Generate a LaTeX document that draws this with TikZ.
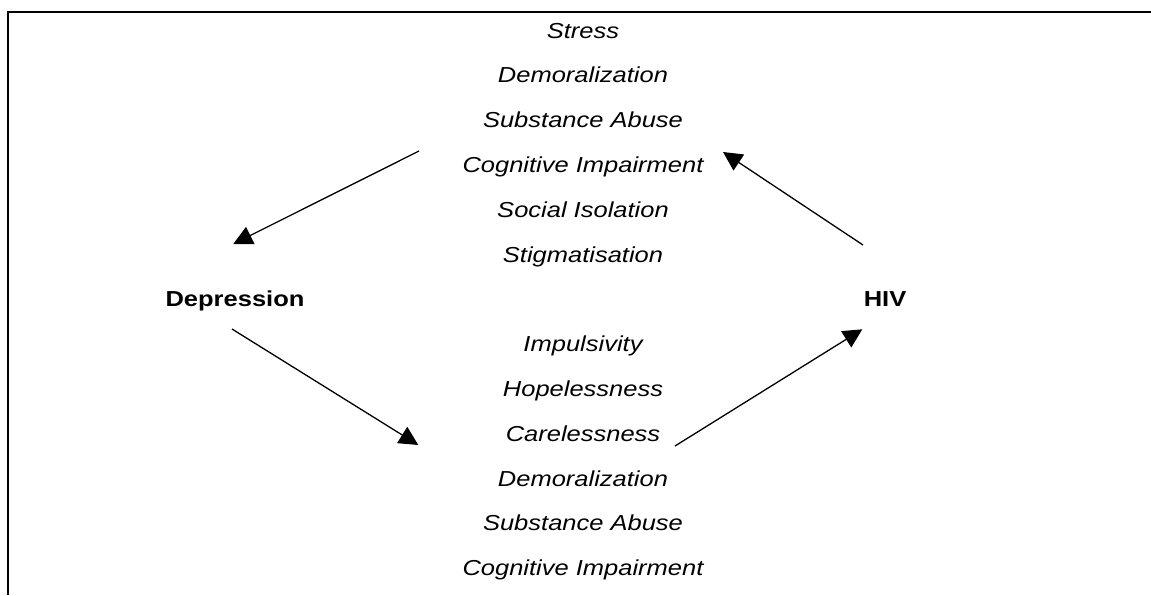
\documentclass[tikz,border=0pt]{standalone}
\usepackage{fontspec}
\usepackage{graphicx}
\setmainfont{Liberation Sans}
\usetikzlibrary{arrows.meta}
\newcommand{\vsq}[1]{\scalebox{1}[0.85]{#1}}
\begin{document}
\begin{tikzpicture}[x=1pt,y=-1pt,
  factor/.style={anchor=base,inner sep=0pt,font=\fontsize{25.5}{30}\selectfont\itshape},
  pole/.style={anchor=base,inner sep=0pt,font=\fontsize{25.5}{30}\selectfont\bfseries},
  link/.style={line width=1.3pt,-{Triangle[length=19pt,width=19pt]}},
  frame/.style={line width=2pt}]
\useasboundingbox (0,0) rectangle (1151,595);
\coordinate (tl) at (8,12);
\coordinate (tr) at (1151,12);
\coordinate (bl) at (8,595);
\draw[frame] (bl) -- (tl) -- (tr);

% upper list
\node[factor] (u1) at (583,38)    {\vsq{Stress}};
\node[factor] (u2) at (583,82.8)  {\vsq{Demoralization}};
\node[factor] (u3) at (583,127.6) {\vsq{Substance Abuse}};
\node[factor] (u4) at (583,172.4) {\vsq{Cognitive Impairment}};
\node[factor] (u5) at (583,217.2) {\vsq{Social Isolation}};
\node[factor] (u6) at (583,262)   {\vsq{Stigmatisation}};

% poles
\node[pole] (dep) at (235,306.8) {\vsq{Depression}};
\node[pole] (hiv) at (885,306.8) {\vsq{HIV}};

% lower list
\node[factor] (l1) at (583,351.6) {\vsq{Impulsivity}};
\node[factor] (l2) at (583,396.4) {\vsq{Hopelessness}};
\node[factor] (l3) at (583,441.2) {\vsq{Carelessness}};
\node[factor] (l4) at (583,486)   {\vsq{Demoralization}};
\node[factor] (l5) at (583,530.8) {\vsq{Substance Abuse}};
\node[factor] (l6) at (583,575.6) {\vsq{Cognitive Impairment}};

% arrow ends
\coordinate (a1s) at (419,151);
\coordinate (a1e) at (233.3,244);
\coordinate (a2s) at (863,245);
\coordinate (a2e) at (723,152);
\coordinate (a3s) at (232,329);
\coordinate (a3e) at (418.3,445);
\coordinate (a4s) at (675,446);
\coordinate (a4e) at (862.3,329.3);

\draw[link] (a1s) -- (a1e);
\draw[link] (a2s) -- (a2e);
\draw[link] (a3s) -- (a3e);
\draw[link] (a4s) -- (a4e);
\end{tikzpicture}
\end{document}
